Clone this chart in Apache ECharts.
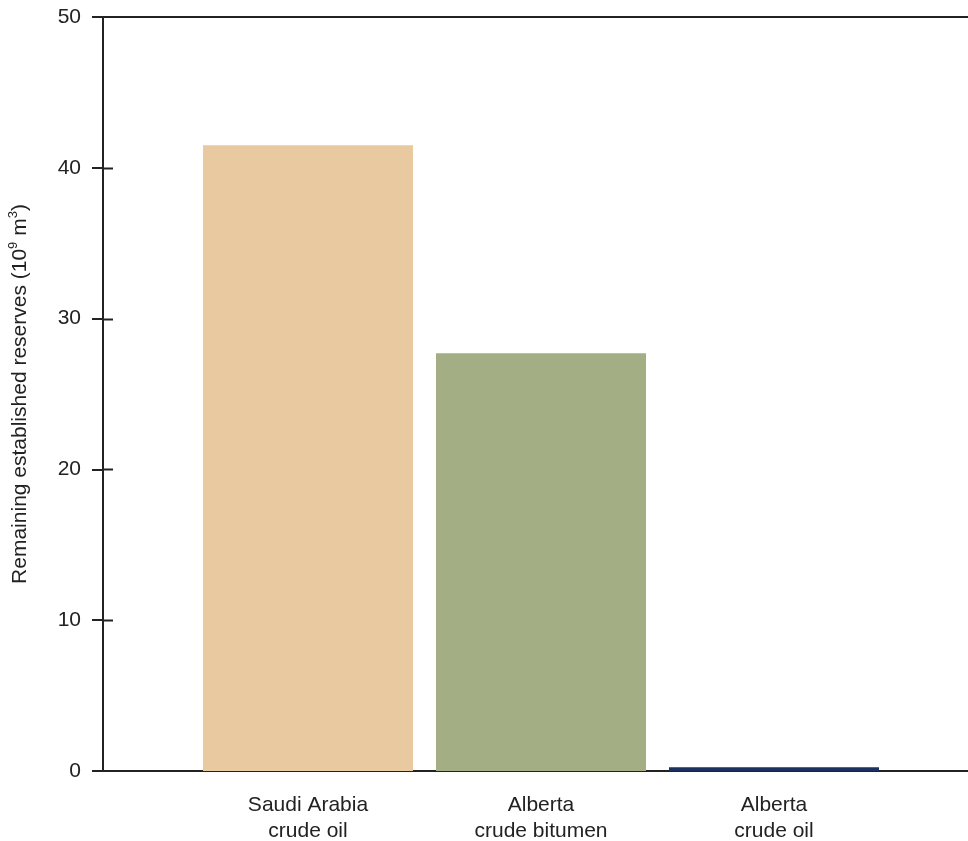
<!DOCTYPE html>
<html>
<head>
<meta charset="utf-8">
<script src="https://cdn.jsdelivr.net/npm/echarts@6/dist/echarts.min.js"></script>
<style>
  html, body { margin: 0; padding: 0; background: #fff; }
  #chart { width: 968px; height: 841px; }
</style>
</head>
<body>
<div id="chart"></div>
<script>
// Remaining established reserves, 10^9 m^3
const categories = ['Saudi Arabia\ncrude oil', 'Alberta\ncrude bitumen', 'Alberta\ncrude oil'];
const reserves = [41.5, 27.7, 0.25];
const barColors = ['#e8c9a0', '#a3ae84', '#1c3160'];
const yTicks = [0, 10, 20, 30, 40, 50];

const positions = categories.map((_, i) => i + 1);
const FONT = '"Liberation Sans", Arial, sans-serif';
const INK = '#222';

const INNER_TICK = 10;
const xRange = { min: 0.1202, max: 3.8326 };

const chart = echarts.init(document.getElementById('chart'));
chart.setOption({
  animation: false,
  backgroundColor: '#fff',
  grid: {
    left: 103, right: 0, top: 17, bottom: 70,
    containLabel: false,
    outerBoundsMode: 'none'
  },
  xAxis: [
    {
      type: 'value',
      position: 'bottom',
      min: xRange.min,
      max: xRange.max,
      splitLine: { show: false },
      axisLine: { show: true, onZero: false, lineStyle: { color: INK, width: 2 } },
      axisTick: { show: false },
      axisLabel: {
        customValues: positions,
        formatter: v => categories[Math.round(v) - 1] || '',
        fontFamily: FONT,
        fontSize: 21,
        color: INK,
        lineHeight: 26,
        margin: 21
      }
    },
    {
      type: 'value',
      position: 'top',
      min: xRange.min,
      max: xRange.max,
      splitLine: { show: false },
      axisLine: { show: true, onZero: false, lineStyle: { color: INK, width: 2 } },
      axisTick: { show: false },
      axisLabel: { show: false }
    }
  ],
  yAxis: {
    type: 'value',
    min: yTicks[0],
    max: yTicks[yTicks.length - 1],
    interval: 10,
    position: 'left',
    axisLine: { show: true, lineStyle: { color: INK, width: 2 } },
    axisTick: { show: true, length: 11, lineStyle: { color: INK, width: 2 } },
    splitLine: { show: false },
    axisLabel: { fontFamily: FONT, fontSize: 21, color: INK, margin: 22 },
    name: '{t|Remaining established reserves (10}{s|9}{t| m}{s|3}{t|)}',
    nameLocation: 'middle',
    nameGap: 72,
    nameRotate: 90,
    nameTextStyle: {
      rich: {
        t: { fontFamily: FONT, fontSize: 21, color: INK, lineHeight: 24, verticalAlign: 'bottom' },
        s: { fontFamily: FONT, fontSize: 13, color: INK, lineHeight: 24, verticalAlign: 'top' }
      }
    }
  },
  series: [
    {
      type: 'bar',
      barWidth: 210,
      data: positions.map((p, i) => ({
        value: [p, reserves[i]],
        itemStyle: { color: barColors[i] }
      })),
      z: 3
    }
  ]
});

// inward half of the cross-shaped y ticks, placed with the axis scales
const spineX = chart.convertToPixel({ xAxisIndex: 0 }, xRange.min);
chart.setOption({
  graphic: yTicks.slice(1, -1).map(v => {
    const y = Math.round(chart.convertToPixel({ yAxisIndex: 0 }, v)) + 0.5;
    return {
      type: 'line',
      silent: true,
      z: 10,
      shape: { x1: spineX, y1: y, x2: spineX + INNER_TICK, y2: y },
      style: { stroke: INK, lineWidth: 2 }
    };
  })
});
</script>
</body>
</html>
